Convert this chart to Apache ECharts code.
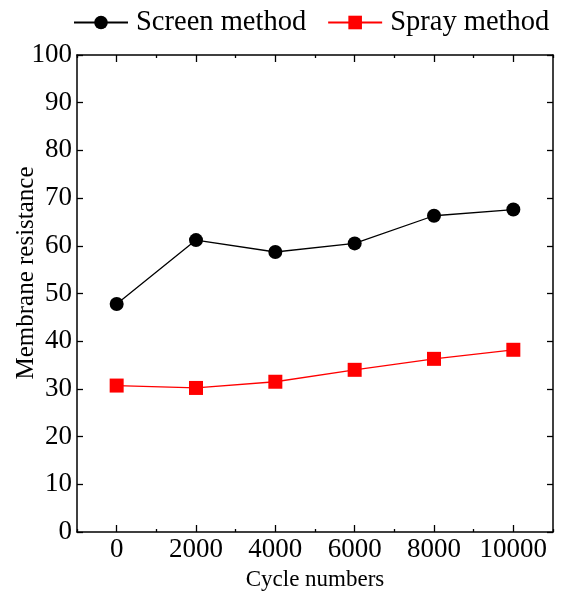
<!DOCTYPE html>
<html>
<head>
<meta charset="utf-8">
<script src="https://cdn.jsdelivr.net/npm/echarts@6/dist/echarts.min.js"></script>
<style>
html,body{margin:0;padding:0;background:#fff;}
#chart{width:563px;height:594px;}
</style>
</head>
<body>
<div id="chart"></div>
<script>
const categories = ['0', '2000', '4000', '6000', '8000', '10000'];
const screenValues = [47.8, 61.2, 58.7, 60.5, 66.3, 67.6];
const sprayValues = [30.7, 30.2, 31.5, 34.0, 36.3, 38.2];
const seriesNames = ['Screen method', 'Spray method'];
const xName = 'Cycle numbers';
const yName = 'Membrane resistance';

const FONT = 'Liberation Serif';
const chart = echarts.init(document.getElementById('chart'), null, {renderer: 'canvas'});

const axisLine = {show: true, lineStyle: {color: '#000', width: 1.5}};
function catAxis(pos, major, showLabel) {
  return {
    type: 'category', position: pos, data: categories, boundaryGap: true, gridIndex: 0,
    axisLine: major ? axisLine : {show: false},
    axisTick: {show: true, inside: true, alignWithLabel: major, length: major ? 7 : 3,
               interval: 0, lineStyle: {color: '#000', width: 1.3}},
    axisLabel: {show: showLabel, interval: 0, color: '#000', fontFamily: FONT, fontSize: 27, margin: 4},
    splitLine: {show: false},
    name: (pos === 'bottom' && showLabel) ? xName : '',
    nameLocation: 'middle', nameGap: 36,
    nameTextStyle: {color: '#000', fontFamily: FONT, fontSize: 23}
  };
}

const option = {
  backgroundColor: '#fff',
  animation: false,
  grid: {left: 77, right: 10, top: 55, bottom: 62, containLabel: false, outerBoundsMode: 'none'},
  legend: {
    data: seriesNames, top: 3, left: 68, itemWidth: 54, itemHeight: 17, itemGap: 21,
    textStyle: {color: '#000', fontFamily: FONT, fontSize: 28.5, padding: [0, 0, 0, 3]}
  },
  xAxis: [
    catAxis('bottom', true, true),
    catAxis('bottom', false, false),
    catAxis('top', true, false),
    catAxis('top', false, false)
  ],
  yAxis: [
    {
      type: 'value', position: 'left', min: 0, max: 100, interval: 10,
      axisLine: axisLine,
      axisTick: {show: true, inside: true, length: 6, lineStyle: {color: '#000', width: 1.3}},
      axisLabel: {color: '#000', fontFamily: FONT, fontSize: 27, margin: 5},
      splitLine: {show: false}
    },
    {
      type: 'value', position: 'right', min: 0, max: 100, interval: 10,
      axisLine: axisLine,
      axisTick: {show: true, inside: true, length: 6, lineStyle: {color: '#000', width: 1.3}},
      axisLabel: {show: false},
      splitLine: {show: false}
    }
  ],
  graphic: [{
    type: 'text', x: 26, y: 273, rotation: Math.PI / 2,
    style: {text: yName, fill: '#000', font: '25px "Liberation Serif"', textAlign: 'center', textVerticalAlign: 'middle'}
  }],
  series: [
    {
      name: seriesNames[0], type: 'line', data: screenValues, xAxisIndex: 0, yAxisIndex: 0,
      symbol: 'circle', symbolSize: 14,
      lineStyle: {color: '#000', width: 1.3},
      itemStyle: {color: '#000'}
    },
    {
      name: seriesNames[1], type: 'line', data: sprayValues, xAxisIndex: 0, yAxisIndex: 0,
      symbol: 'rect', symbolSize: 14,
      lineStyle: {color: '#ff0000', width: 1.3},
      itemStyle: {color: '#ff0000'}
    }
  ]
};
chart.setOption(option);
</script>
</body>
</html>
